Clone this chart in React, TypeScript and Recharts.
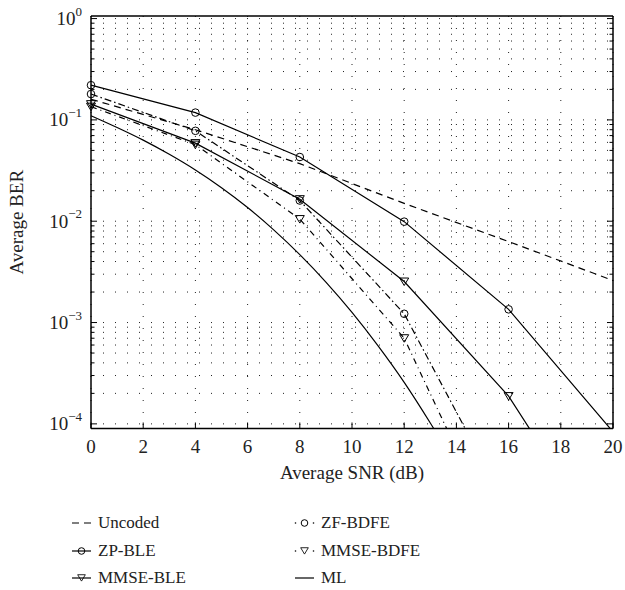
import React from "react";
import {
  LineChart,
  Line,
  XAxis,
  YAxis,
  CartesianGrid,
  ReferenceLine,
  Label,
} from "recharts";

const FONT = '"Liberation Serif", "DejaVu Serif", serif';

// SNR (dB) where the marked curves are sampled
const snrMarks = [0, 4, 8, 12, 16, 20];
const uncoded = [0.16, 0.08, 0.037, 0.015, 0.0063, 0.0026];
const zpBle = [0.22, 0.118, 0.043, 0.0099, 0.00135, 0.0000835];
const mmseBle = [0.143, 0.059, 0.0165, 0.00254, 0.000188, 0.0000047];
const zfBdfe = [0.18, 0.078, 0.016, 0.00122, 0.000014];
const mmseBdfe = [0.135, 0.057, 0.0105, 0.0007, 0.0000045];

// ML curve, one point per dB
const mlSnr = [0, 1, 2, 3, 4, 5, 6, 7, 8, 9, 10, 11, 12, 13, 14];
const ml = [
  0.11, 0.0841, 0.0631, 0.0457, 0.032, 0.0214, 0.01365, 0.00822, 0.00468,
  0.00251, 0.00126, 0.000589, 0.000257, 0.000102, 0.000038,
];

const xTicks = [0, 2, 4, 6, 8, 10, 12, 14, 16, 18, 20];
const yMajor = [1, 0.1, 0.01, 0.001, 0.0001];
const yExp = ["0", "\u22121", "\u22122", "\u22123", "\u22124"];
const yMinor = [0.0001, 0.001, 0.01, 0.1].flatMap((d) =>
  [2, 3, 4, 5, 6, 7, 8, 9].map((m) => m * d)
);
const yTicks = [...yMajor, ...yMinor];
const yDomain = [0.00009, 1.06];

const toRows = (xs: number[], ys: number[]) =>
  ys.map((ber, i) => ({ snr: xs[i], ber }));

const circleDot = (p: any) =>
  p.value < yDomain[0] ? (
    <g key={p.index} />
  ) : (
    <circle
      key={p.index}
      cx={p.cx}
      cy={p.cy}
      r={3.8}
      fill="none"
      stroke="#000"
      strokeWidth={1}
    />
  );

const triPath = (cx: number, cy: number) =>
  `M${cx - 4.5},${cy - 3.5}L${cx + 4.5},${cy - 3.5}L${cx},${cy + 4}Z`;

const triDot = (p: any) =>
  p.value < yDomain[0] ? (
    <g key={p.index} />
  ) : (
    <path
      key={p.index}
      d={triPath(p.cx, p.cy)}
      fill="none"
      stroke="#000"
      strokeWidth={1}
    />
  );

const LeftTick = ({ x, y, payload }: any) => {
  const i = yMajor.indexOf(payload.value);
  const major = i >= 0;
  return (
    <g>
      <line x1={x} x2={x + (major ? 6 : 3.5)} y1={y} y2={y} stroke="#000" />
      {major && (
        <text
          x={x - 9}
          y={y + 6.5}
          textAnchor="end"
          fontFamily={FONT}
          fontSize={19}
          fill="#222"
        >
          10
          <tspan dy={-9.5} fontSize={13}>
            {yExp[i]}
          </tspan>
        </text>
      )}
    </g>
  );
};

const RightTick = ({ x, y, payload }: any) => {
  const major = yMajor.indexOf(payload.value) >= 0;
  return (
    <line x1={x} x2={x - (major ? 6 : 3.5)} y1={y} y2={y} stroke="#000" />
  );
};

const BottomTick = ({ x, y, payload }: any) => (
  <g>
    <line x1={x} x2={x} y1={y} y2={y - 6} stroke="#000" />
    <text
      x={x}
      y={y + 24}
      textAnchor="middle"
      fontFamily={FONT}
      fontSize={19}
      fill="#222"
    >
      {payload.value}
    </text>
  </g>
);

const TopTick = ({ x, y }: any) => (
  <line x1={x} x2={x} y1={y} y2={y + 6} stroke="#000" />
);

const series = [
  { name: "Uncoded", xs: snrMarks, ys: uncoded, dash: "7 5", marker: "", curve: "linear" },
  { name: "ZP-BLE", xs: snrMarks, ys: zpBle, dash: "", marker: "o", curve: "linear" },
  { name: "MMSE-BLE", xs: snrMarks, ys: mmseBle, dash: "", marker: "v", curve: "linear" },
  { name: "ZF-BDFE", xs: snrMarks, ys: zfBdfe, dash: "7 3 1.5 3", marker: "o", curve: "linear" },
  { name: "MMSE-BDFE", xs: snrMarks, ys: mmseBdfe, dash: "6 4 1 4", marker: "v", curve: "linear" },
  { name: "ML", xs: mlSnr, ys: ml, dash: "", marker: "", curve: "monotone" },
];

const LegendIcon = ({ name, marker }: { name: string; marker: string }) => {
  const dashed = name === "Uncoded";
  const dotted = name === "ZF-BDFE" || name === "MMSE-BDFE";
  return (
    <svg width={22} height={14} style={{ display: "block" }}>
      {dashed && (
        <line x1={1} x2={20} y1={7} y2={7} stroke="#000" strokeWidth={1.2} strokeDasharray="7 5" />
      )}
      {!dashed && !dotted && (
        <line x1={1} x2={20} y1={7} y2={7} stroke="#000" strokeWidth={1.2} />
      )}
      {dotted && (
        <g fill="#000">
          <circle cx={1.5} cy={7} r={0.8} />
          <circle cx={19.5} cy={7} r={0.8} />
        </g>
      )}
      {marker === "o" && (
        <circle cx={10.5} cy={7} r={3.3} fill="none" stroke="#000" />
      )}
      {marker === "v" && (
        <path d={triPath(10.5, 6.7)} fill="none" stroke="#000" transform="translate(10.5 6.7) scale(0.85) translate(-10.5 -6.7)" />
      )}
    </svg>
  );
};

const legendPos = [
  { left: 71, top: 523 },
  { left: 71, top: 551 },
  { left: 71, top: 578 },
  { left: 294, top: 523 },
  { left: 294, top: 551 },
  { left: 294, top: 578 },
];

export default function App() {
  return (
    <div
      style={{
        position: "absolute",
        left: 0,
        top: 0,
        width: 625,
        height: 590,
        background: "#fff",
        fontFamily: FONT,
      }}
    >
      <LineChart
        width={625}
        height={590}
        margin={{ top: 15, right: 11, bottom: 131.5, left: 31 }}
      >
        <CartesianGrid
          horizontal={false}
          stroke="#222"
          strokeDasharray="1 11"
        />
        {yTicks.map((v) => (
          <ReferenceLine
            key={v}
            y={v}
            stroke="#222"
            strokeDasharray="1 11"
            ifOverflow="hidden"
          />
        ))}
        <XAxis
          dataKey="snr"
          type="number"
          domain={[0, 20]}
          ticks={xTicks}
          interval={0}
          height={30}
          tickSize={0}
          tickMargin={0}
          tickLine={false}
          tick={<BottomTick />}
          axisLine={{ stroke: "#000", strokeWidth: 1.5 }}
        >
          <Label
            content={({ viewBox }: any) => (
              <text
                x={viewBox.x + viewBox.width / 2}
                y={viewBox.y + 50.5}
                textAnchor="middle"
                fontFamily={FONT}
                fontSize={19}
                fill="#222"
              >
                Average SNR (dB)
              </text>
            )}
          />
        </XAxis>
        <XAxis
          xAxisId="top"
          orientation="top"
          type="number"
          domain={[0, 20]}
          ticks={xTicks}
          interval={0}
          height={1}
          tickSize={0}
          tickMargin={0}
          tickLine={false}
          tick={<TopTick />}
          axisLine={{ stroke: "#000", strokeWidth: 1.5 }}
        />
        <YAxis
          scale="log"
          type="number"
          domain={yDomain}
          allowDataOverflow
          ticks={yTicks}
          interval={0}
          width={60}
          tickSize={0}
          tickMargin={0}
          tickLine={false}
          tick={<LeftTick />}
          axisLine={{ stroke: "#000", strokeWidth: 1.5 }}
        >
          <Label
            content={({ viewBox }: any) => {
              const cx = viewBox.x - 8;
              const cy = viewBox.y + viewBox.height / 2;
              return (
                <text
                  x={cx}
                  y={cy}
                  transform={`rotate(-90 ${cx} ${cy})`}
                  textAnchor="middle"
                  fontFamily={FONT}
                  fontSize={19}
                  fill="#222"
                >
                  Average BER
                </text>
              );
            }}
          />
        </YAxis>
        <YAxis
          yAxisId="right"
          orientation="right"
          scale="log"
          type="number"
          domain={yDomain}
          allowDataOverflow
          ticks={yTicks}
          interval={0}
          width={1}
          tickSize={0}
          tickMargin={0}
          tickLine={false}
          tick={<RightTick />}
          axisLine={{ stroke: "#000", strokeWidth: 1.5 }}
        />
        {series.map((s) => (
          <Line
            key={s.name}
            name={s.name}
            data={toRows(s.xs, s.ys)}
            dataKey="ber"
            type={s.curve as any}
            stroke="#000"
            strokeWidth={1.2}
            strokeDasharray={s.dash || undefined}
            dot={s.marker === "o" ? circleDot : s.marker === "v" ? triDot : false}
            activeDot={false}
            isAnimationActive={false}
          />
        ))}
      </LineChart>
      {series.map((s, i) => (
        <div
          key={s.name}
          style={{
            position: "absolute",
            left: legendPos[i].left,
            top: legendPos[i].top - 11,
            height: 22,
            display: "flex",
            alignItems: "center",
            gap: 5,
            fontSize: 17,
            color: "#222",
            whiteSpace: "nowrap",
          }}
        >
          <LegendIcon name={s.name} marker={s.marker} />
          <span>{s.name}</span>
        </div>
      ))}
    </div>
  );
}
